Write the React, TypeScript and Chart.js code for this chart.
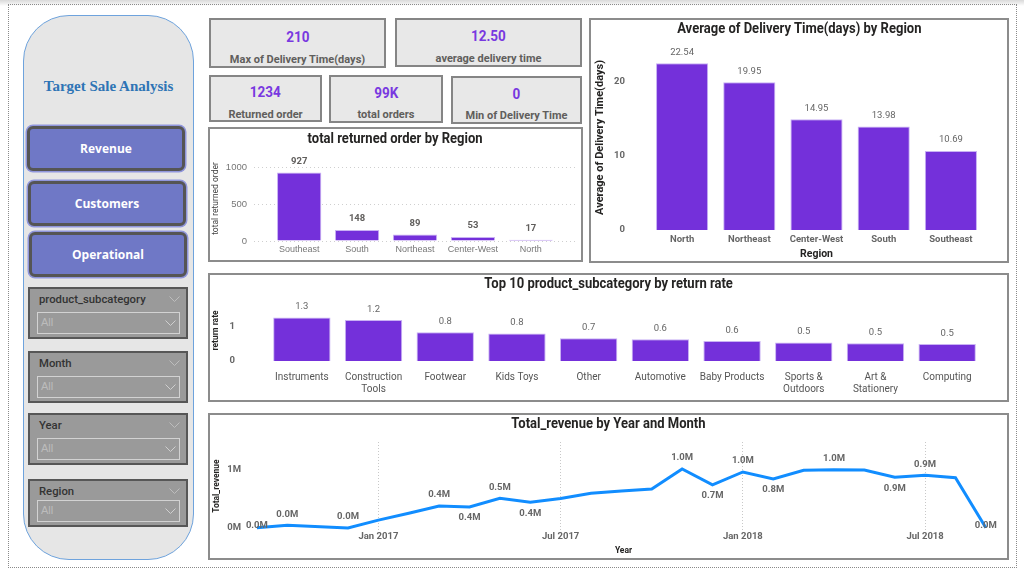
import React, { useEffect, useRef } from "react";
import { Chart, registerables } from "chart.js";

Chart.register(...registerables);

const NARROW = "Roboto, sans-serif";
const SANS = "'Liberation Sans', Arial, sans-serif";
const SEGOE = "'Open Sans', 'Noto Sans', sans-serif";
const SERIF = "'Liberation Serif', 'DejaVu Serif', serif";

const BAR = "#7430da";
const BAR_EDGE = "#c9b2f4";
const KPI_PURPLE = "#7838e0";
const TITLE = "#252423";
const LABEL = "#605e5c";

// ---------- data ----------
const kpiValues = ["210", "12.50", "1234", "99K", "0"];
const kpiLabels = ["Max of Delivery Time(days)", "average delivery time", "Returned order", "total orders", "Min of Delivery Time"];

const navButtons = ["Revenue", "Customers", "Operational"];
const slicerFields = ["product_subcategory", "Month", "Year", "Region"];
const slicerValue = "All";

const returnRegions = ["Southeast", "South", "Northeast", "Center-West", "North"];
const returnCounts = [927, 148, 89, 53, 17];
const returnTicks = [0, 500, 1000];

const deliveryRegions = ["North", "Northeast", "Center-West", "South", "Southeast"];
const deliveryDays = [22.54, 19.95, 14.95, 13.98, 10.69];
const deliveryTicks = [0, 10, 20];

const subcategories = [
  ["Instruments"], ["Construction", "Tools"], ["Footwear"], ["Kids Toys"], ["Other"],
  ["Automotive"], ["Baby Products"], ["Sports &", "Outdoors"], ["Art &", "Stationery"], ["Computing"],
];
const returnRates = [1.28, 1.2, 0.84, 0.81, 0.67, 0.64, 0.59, 0.54, 0.52, 0.5];
const rateTicks = [0, 1];

const revenueMonths = [
  "2016-09", "2016-10", "2016-12", "2017-01", "2017-02", "2017-03", "2017-04", "2017-05",
  "2017-06", "2017-07", "2017-08", "2017-09", "2017-10", "2017-11", "2017-12", "2018-01",
  "2018-02", "2018-03", "2018-04", "2018-05", "2018-06", "2018-07", "2018-08", "2018-09",
];
const revenueValues = [
  5000, 45000, 1000, 135000, 255000, 380000, 362000, 512000,
  443000, 510000, 598000, 638000, 672000, 1017000, 745000, 966000,
  845000, 995000, 1005000, 1000000, 874000, 909000, 867000, 5000,
];
const revenueLabelledMonths = [
  "2016-09", "2016-10", "2016-12", "2017-03", "2017-04", "2017-05", "2017-06", "2017-11",
  "2017-12", "2018-01", "2018-02", "2018-04", "2018-06", "2018-07", "2018-09",
];
const revenueTickMonths = ["2017-01", "2017-07", "2018-01", "2018-07"];
const revenueTicks = [0, 1000000];

const monthNames = ["Jan", "Feb", "Mar", "Apr", "May", "Jun", "Jul", "Aug", "Sep", "Oct", "Nov", "Dec"];
const monthIndex = (s: string) => {
  const [y, m] = s.split("-").map(Number);
  return y * 12 + m - 1;
};
const baseMonth = monthIndex(revenueMonths[0]);

// ---------- helpers ----------
const fixW = (w: number) => (s: any) => { s.width = w; s.paddingTop = 0; s.paddingBottom = 0; };
const fixH = (h: number) => (s: any) => { s.height = h; s.paddingLeft = 0; s.paddingRight = 0; };

function barValueLabels(id: string, format: (v: number) => string, font: string, color: string, gap: number) {
  return {
    id,
    afterDatasetsDraw(chart: any) {
      const ctx = chart.ctx;
      const meta = chart.getDatasetMeta(0);
      const values = chart.data.datasets[0].data;
      ctx.save();
      ctx.font = font;
      ctx.fillStyle = color;
      ctx.textAlign = "center";
      ctx.textBaseline = "middle";
      meta.data.forEach((el: any, i: number) => {
        const raw = values[i];
        const v = typeof raw === "object" ? raw.y : raw;
        ctx.fillText(format(v), el.x, el.y - gap);
      });
      ctx.restore();
    },
  };
}

const lineValueLabels = {
  id: "lineValueLabels",
  afterDatasetsDraw(chart: any) {
    const ctx = chart.ctx;
    const meta = chart.getDatasetMeta(0);
    ctx.save();
    ctx.font = `bold 9.5px ${NARROW}`;
    ctx.fillStyle = "#666666";
    ctx.textAlign = "center";
    ctx.textBaseline = "middle";
    const n = revenueValues.length;
    meta.data.forEach((el: any, i: number) => {
      if (!revenueLabelledMonths.includes(revenueMonths[i])) return;
      const v = revenueValues[i];
      const text = (v / 1e6).toFixed(1) + "M";
      let y = el.y - 11;
      if (i === 0 || i === n - 1) y = el.y - 2;
      else if (v < revenueValues[i - 1] && v < revenueValues[i + 1] && v > 100000) y = el.y + 11;
      ctx.fillText(text, el.x, y);
    });
    ctx.restore();
  },
};

const axisTitle = (text: string, size: number, top: number, bottom: number, color = TITLE, weight = "bold") => ({
  display: true,
  text,
  color,
  font: { family: NARROW, size, weight, lineHeight: 1.2 },
  padding: { top, bottom },
});

const basePlugins = { legend: { display: false }, tooltip: { enabled: false }, title: { display: false } };

// ---------- chart configs ----------
const returnedConfig = () => ({
  type: "bar",
  data: {
    datasets: [{
      data: returnCounts.map((v, i) => ({ x: i, y: v })),
      backgroundColor: BAR, borderColor: BAR_EDGE, borderWidth: 1,
      barPercentage: 0.765, categoryPercentage: 1,
    }],
  },
  options: {
    animation: false, responsive: true, maintainAspectRatio: false,
    layout: { padding: { left: 0, right: 5, top: 27, bottom: 0 } },
    plugins: basePlugins,
    scales: {
      x: {
        type: "linear", min: -0.78, max: 4.78, offset: false,
        grid: { display: false, drawTicks: false }, border: { display: false },
        afterBuildTicks: (s: any) => { s.ticks = returnRegions.map((_, i) => ({ value: i })); },
        afterFit: fixH(19),
        ticks: {
          autoSkip: false, maxRotation: 0, padding: 3.6, color: "#777",
          font: { family: SANS, size: 9 },
          callback: (v: any) => returnRegions[v],
        },
      },
      y: {
        min: 0, max: 1150,
        afterBuildTicks: (s: any) => { s.ticks = returnTicks.map((value) => ({ value })); },
        afterFit: fixW(44),
        grid: { color: "#cfcfcf", drawTicks: false, lineWidth: 1 },
        border: { display: false, dash: [1, 3] },
        ticks: { padding: 7, color: "#777", font: { family: SANS, size: 9.5 }, callback: (v: any) => String(v) },
        title: axisTitle("total returned order", 8.5, 1, 0, "#444", "normal"),
      },
    },
  },
  plugins: [barValueLabels("retLabels", (v) => String(v), `bold 9.5px ${NARROW}`, LABEL, 11)],
});

const deliveryConfig = () => ({
  type: "bar",
  data: {
    labels: deliveryRegions,
    datasets: [{
      data: deliveryDays, backgroundColor: BAR, borderColor: BAR_EDGE, borderWidth: 1,
      barPercentage: 0.776, categoryPercentage: 1,
    }],
  },
  options: {
    animation: false, responsive: true, maintainAspectRatio: false,
    layout: { padding: { left: 0, right: 22.5, top: 25, bottom: 0 } },
    plugins: basePlugins,
    scales: {
      x: {
        grid: { display: false, drawTicks: false }, border: { display: false },
        afterFit: fixH(31),
        ticks: { autoSkip: false, maxRotation: 0, padding: 4.3, color: "#666", font: { family: NARROW, size: 9.5, weight: "bold" } },
        title: axisTitle("Region", 10.5, 0, 0.7),
      },
      y: {
        min: 0, max: 25,
        afterBuildTicks: (s: any) => { s.ticks = deliveryTicks.map((value) => ({ value })); },
        afterFit: fixW(57.5),
        grid: { display: false, drawTicks: false }, border: { display: false },
        ticks: { padding: 23.5, color: "#666", font: { family: NARROW, size: 9.5, weight: "bold" } },
        title: axisTitle("Average of Delivery Time(days)", 11, 2.4, 0),
      },
    },
  },
  plugins: [barValueLabels("delLabels", (v) => v.toFixed(2), `9.5px ${NARROW}`, "#666", 11)],
});

const rateConfig = () => ({
  type: "bar",
  data: {
    labels: subcategories,
    datasets: [{
      data: returnRates, backgroundColor: BAR, borderColor: BAR_EDGE, borderWidth: 1,
      barPercentage: 0.8, categoryPercentage: 1,
    }],
  },
  options: {
    animation: false, responsive: true, maintainAspectRatio: false,
    layout: { padding: { left: 0, right: 24, top: 25, bottom: 0 } },
    plugins: basePlugins,
    scales: {
      x: {
        grid: { display: false, drawTicks: false }, border: { display: false },
        afterFit: fixH(39),
        ticks: { autoSkip: false, maxRotation: 0, padding: 10.85, color: "#555", font: { family: NARROW, size: 10, lineHeight: 1.17 } },
      },
      y: {
        min: 0, max: 1.79,
        afterBuildTicks: (s: any) => { s.ticks = rateTicks.map((value) => ({ value })); },
        afterFit: fixW(56),
        grid: { display: false, drawTicks: false }, border: { display: false },
        ticks: { padding: 31, color: "#666", font: { family: NARROW, size: 9.5, weight: "bold" } },
        title: axisTitle("return rate", 8.5, 1, 0),
      },
    },
  },
  plugins: [barValueLabels("rateLabels", (v) => v.toFixed(1), `9.5px ${NARROW}`, "#666", 10.5)],
});

const revenueConfig = () => ({
  type: "line",
  data: {
    datasets: [{
      data: revenueMonths.map((m, i) => ({ x: monthIndex(m) - baseMonth, y: revenueValues[i] })),
      borderColor: "#118dff", borderWidth: 3, pointRadius: 0, tension: 0, fill: false,
    }],
  },
  options: {
    animation: false, responsive: true, maintainAspectRatio: false,
    layout: { padding: { left: 0, right: 9, top: 27, bottom: 0 } },
    plugins: basePlugins,
    scales: {
      x: {
        type: "linear", min: -0.26, max: 24.4, offset: false,
        afterBuildTicks: (s: any) => { s.ticks = revenueTickMonths.map((m) => ({ value: monthIndex(m) - baseMonth })); },
        afterFit: fixH(28),
        grid: { color: "#c8c8c8", drawTicks: false, lineWidth: 1 },
        border: { display: false, dash: [1, 2] },
        ticks: {
          autoSkip: false, maxRotation: 0, padding: 1.3, color: "#666",
          font: { family: NARROW, size: 9.5, weight: "bold" },
          callback: (v: any) => {
            const abs = baseMonth + Math.round(v);
            return `${monthNames[abs % 12]} ${Math.floor(abs / 12)}`;
          },
        },
        title: axisTitle("Year", 8.5, 0, 2),
      },
      y: {
        min: -35000, max: 1483000,
        afterBuildTicks: (s: any) => { s.ticks = revenueTicks.map((value) => ({ value })); },
        afterFit: fixW(39),
        grid: { display: false, drawTicks: false }, border: { display: false },
        ticks: {
          padding: 8, color: "#666", font: { family: NARROW, size: 9.5, weight: "bold" },
          callback: (v: any) => `${Math.round(v / 1e6)}M`,
        },
        title: axisTitle("Total_revenue", 8.5, 1.6, 0),
      },
    },
  },
  plugins: [lineValueLabels],
});

// ---------- components ----------
function Squeezed({ text, size, color, weight = "bold", scale, family = NARROW }: any) {
  return (
    <span style={{ display: "inline-block", transform: `scaleX(${scale})`, transformOrigin: "center", whiteSpace: "nowrap", fontFamily: family, fontSize: size, fontWeight: weight, color }}>
      {text}
    </span>
  );
}

function ChartBox({ x, y, w, h, title, titleY, make }: { x: number; y: number; w: number; h: number; title: string; titleY: number; make: () => any }) {
  const ref = useRef<HTMLCanvasElement>(null);
  useEffect(() => {
    const chart = new Chart(ref.current as HTMLCanvasElement, make());
    return () => chart.destroy();
  }, []);
  return (
    <div style={{ position: "absolute", left: x, top: y, width: w, height: h, border: "2px solid #8c8c8c", background: "#fff", boxSizing: "border-box" }}>
      <div style={{ position: "relative", width: w - 4, height: h - 4 }}>
        <canvas ref={ref} />
      </div>
      <div style={{ position: "absolute", left: 0, top: titleY - 2 - 9, width: w - 4, height: 18, lineHeight: "18px", textAlign: "center" }}>
        <Squeezed text={title} size={14} color={TITLE} scale={0.93} />
      </div>
    </div>
  );
}

const kpiBoxes = [
  { x: 209, y: 18, w: 177, h: 50 },
  { x: 395, y: 18, w: 187, h: 49 },
  { x: 209, y: 75, w: 113, h: 47 },
  { x: 329, y: 75, w: 114, h: 48 },
  { x: 451, y: 76, w: 131, h: 48 },
];

function Kpi({ i }: { i: number }) {
  const b = kpiBoxes[i];
  const common: any = { position: "absolute", left: 0, width: "100%", textAlign: "center", height: 18, lineHeight: "18px" };
  return (
    <div style={{ position: "absolute", left: b.x, top: b.y, width: b.w, height: b.h, background: "#e8e8e8", border: "2px solid #858585", boxSizing: "border-box" }}>
      <div style={{ ...common, top: b.h * 0.37 - 2 - 9 }}>
        <Squeezed text={kpiValues[i]} size={15} color={KPI_PURPLE} scale={0.9} />
      </div>
      <div style={{ ...common, top: b.h * 0.8 - 2 - 9 }}>
        <Squeezed text={kpiLabels[i]} size={11} color={LABEL} scale={1} />
      </div>
    </div>
  );
}

const buttonBoxes = [
  { x: 27, y: 126 },
  { x: 28, y: 181 },
  { x: 29, y: 232 },
];

const slicerBoxes = [
  { y: 287, h: 52 },
  { y: 351, h: 52 },
  { y: 413, h: 52 },
  { y: 479, h: 48 },
];

function Chevron({ x, y, color }: { x: number; y: number; color: string }) {
  return (
    <svg style={{ position: "absolute", left: x, top: y }} width={11} height={7}>
      <polyline points="0.5,0.5 5.5,5.5 10.5,0.5" fill="none" stroke={color} strokeWidth={1} />
    </svg>
  );
}

function Sidebar() {
  return (
    <>
      <div style={{ position: "absolute", left: 23, top: 15, width: 171, height: 545, background: "#e6e6e6", border: "1.5px solid #6ea3dd", borderRadius: 46, boxSizing: "border-box" }} />
      <div style={{ position: "absolute", left: 23, top: 77, width: 171, textAlign: "center", fontFamily: SERIF, fontWeight: "bold", fontSize: 15, color: "#2e74b5", lineHeight: "18px" }}>
        Target Sale Analysis
      </div>
      {navButtons.map((t, i) => (
        <div key={t} style={{
          position: "absolute", left: buttonBoxes[i].x, top: buttonBoxes[i].y, width: 158, height: 45,
          background: "#6f78c6", border: "3px solid #555", borderRadius: 6, boxSizing: "border-box",
          boxShadow: "0 0 0 1.5px #9096dc", color: "#fff", fontFamily: SEGOE, fontWeight: "bold", fontSize: 12,
          display: "flex", alignItems: "center", justifyContent: "center",
        }}>{t}</div>
      ))}
      {slicerFields.map((f, i) => {
        const s = slicerBoxes[i];
        return (
          <div key={f} style={{ position: "absolute", left: 28, top: s.y, width: 160, height: s.h, background: "#9a9a9a", border: "2px solid #575757", boxSizing: "border-box" }}>
            <div style={{ position: "absolute", left: 9, top: 4, fontFamily: NARROW, fontSize: 11.3, fontWeight: 500, color: "#333", lineHeight: "14px" }}>{f}</div>
            <Chevron x={139} y={7} color="#bdbdbd" />
            <div style={{ position: "absolute", left: 7, top: s.h - 29, width: 143, height: 22, border: "1.5px solid #d2d2d2", boxSizing: "border-box" }}>
              <div style={{ position: "absolute", left: 3, top: 3, fontFamily: SANS, fontSize: 11, color: "#bcbcbc", lineHeight: "13px" }}>{slicerValue}</div>
              <Chevron x={127} y={7} color="#cfcfcf" />
            </div>
          </div>
        );
      })}
    </>
  );
}

export default function App() {
  return (
    <div style={{ position: "fixed", left: 0, top: 0, width: 1024, height: 572, background: "#fff", overflow: "hidden" }}>
      <div style={{ position: "absolute", left: 0, top: 0, width: 1024, height: 6, background: "linear-gradient(#d9d9d9, #ffffff)" }} />
      <div style={{ position: "absolute", left: 8, top: 4, width: 1009, height: 564, border: "1px dotted #8a8a8a", boxSizing: "border-box" }} />
      <Sidebar />
      {kpiValues.map((_, i) => <Kpi key={i} i={i} />)}
      <ChartBox x={208} y={127} w={375} h={135} title="total returned order by Region" titleY={11} make={returnedConfig} />
      <ChartBox x={589} y={18} w={420} h={245} title="Average of Delivery Time(days) by Region" titleY={10} make={deliveryConfig} />
      <ChartBox x={208} y={273} w={801} h={129} title="Top 10 product_subcategory by return rate" titleY={10} make={rateConfig} />
      <ChartBox x={208} y={413} w={801} h={147} title="Total_revenue by Year and Month" titleY={10} make={revenueConfig} />
    </div>
  );
}
